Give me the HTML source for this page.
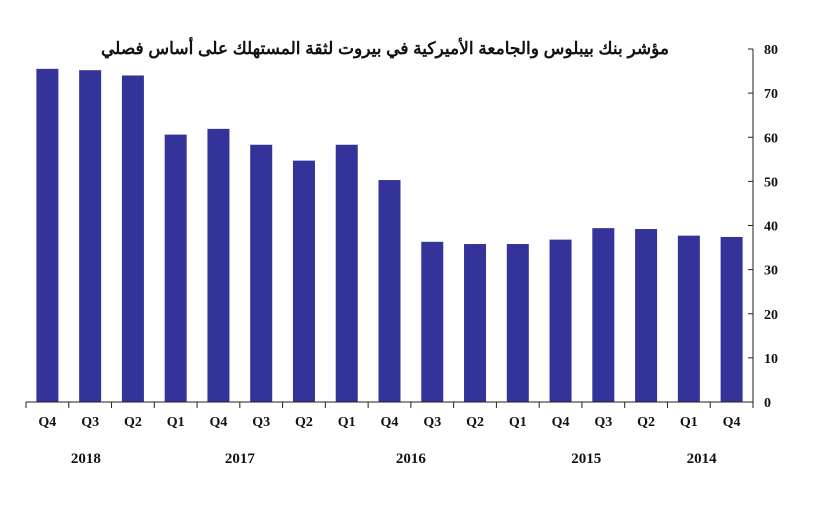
<!DOCTYPE html>
<html><head><meta charset="utf-8"><style>
body{margin:0;background:#fff;}
svg text{font-family:"Liberation Serif",serif;font-weight:bold;fill:#111;}
</style></head><body>
<svg id="chart" width="822" height="512" viewBox="0 0 822 512" xmlns="http://www.w3.org/2000/svg">
<text x="385" y="54" text-anchor="middle" style="font-family:'Liberation Sans','Noto Sans CJK SC',sans-serif;font-size:17px;">مؤشر بنك بيبلوس والجامعة الأميركية في بيروت لثقة المستهلك على أساس فصلي</text>
<g id="bars"></g><g id="axes"></g>
</svg>
<script>
const categories=["Q4","Q3","Q2","Q1","Q4","Q3","Q2","Q1","Q4","Q3","Q2","Q1","Q4","Q3","Q2","Q1","Q4"];
const values=[75.5,75.2,74,60.6,61.9,58.3,54.7,58.3,50.3,36.3,35.8,35.8,36.8,39.4,39.2,37.7,37.4];
const yTicks=[0,10,20,30,40,50,60,70,80];
const years=["2018","2017","2016","2015","2014"];
const yearPos=[1.4,5,9,13.1,15.8];
const NS="http://www.w3.org/2000/svg";
const x0=26,x1=753,y0=402,y80=49;
const bw=(x1-x0)/categories.length;
const x=i=>x0+bw*i;
const y=v=>y0-(y0-y80)*v/80;
function mk(t,a,p){const e=document.createElementNS(NS,t);for(const k in a)e.setAttribute(k,a[k]);p.appendChild(e);return e;}
const bars=document.getElementById('bars'),axes=document.getElementById('axes');
values.forEach((v,i)=>{
 const r=mk('rect',{x:x(i)+bw/2-11,y:y(v),width:22,height:y0-y(v),fill:'#333399'},bars);
 
 
 const t=mk('text',{x:x(i)+bw/2,y:426,'text-anchor':'middle','font-size':'14'},axes);
 t.textContent=categories[i];
 
 
});
for(let i=0;i<=categories.length;i++){mk('line',{x1:x(i),x2:x(i),y1:y0,y2:y0+6,stroke:'#222'},axes);}
const xl=mk('line',{x1:x0,x2:x1,y1:y0,y2:y0,stroke:'#222'},axes);


const yl=mk('line',{x1:x1,x2:x1,y1:y80,y2:y0,stroke:'#222'},axes);


yTicks.forEach(v=>{
 mk('line',{x1:x1-5,x2:x1,y1:y(v),y2:y(v),stroke:'#222'},axes);
 const t=mk('text',{x:764,y:y(v)+5,'font-size':'14'},axes);
 t.textContent=v;
 
 
});
years.forEach((yr,i)=>{
 const t=mk('text',{x:x(yearPos[i]),y:463,'text-anchor':'middle','font-size':'15'},axes);
 t.textContent=yr;
 
 
});
</script>
</body></html>
